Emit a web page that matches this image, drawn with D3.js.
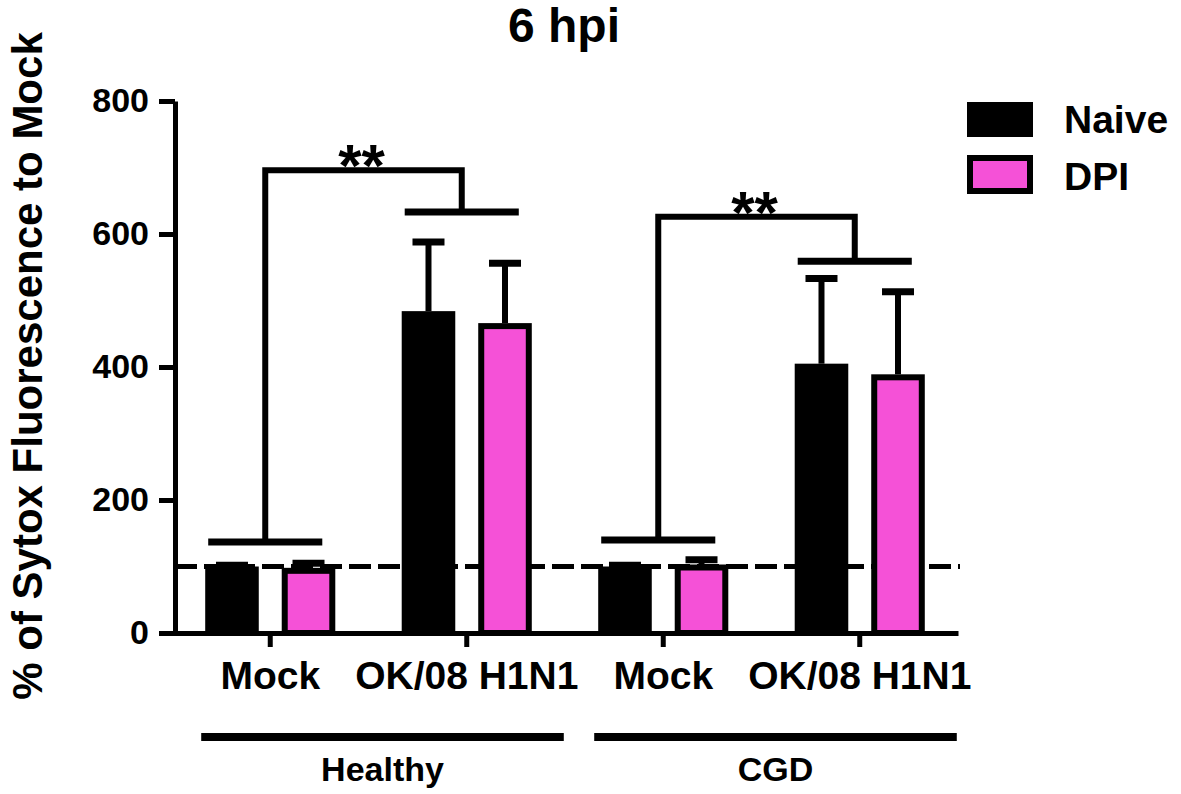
<!DOCTYPE html>
<html>
<head>
<meta charset="utf-8">
<script src="https://cdn.jsdelivr.net/npm/d3@7"></script>
<style>
  body { margin: 0; background: #fff; }
  text { font-family: Arial, "Liberation Sans", sans-serif; font-weight: bold; fill: #000; }
</style>
</head>
<body>
<div id="chart"></div>
<script>
// Data
var categories = ["Mock (Healthy)", "OK/08 (Healthy)", "Mock (CGD)", "OK/08 (CGD)"];
var tickLabels = ["Mock", "OK/08 H1N1", "Mock", "OK/08 H1N1"];
var seriesNames = ["Naive", "DPI"];
var naive = [100, 484, 100, 405];
var naiveErr = [2, 104, 2, 128];
var dpi = [98, 466, 103, 389];
var dpiErr = [7, 90, 7, 124];
var yTicks = [0, 200, 400, 600, 800];
var groupNames = ["Healthy", "CGD"];
// significance brackets: mock index, infected index, mock level, infected level, top level
var bracketFrom = [0, 2];
var bracketTo = [1, 3];
var bracketLow = [137, 140];
var bracketHigh = [633, 559];
var bracketTop = [696, 626];
var refLine = 100;

var w = 1181;
var h = 794;
var pink = "#f551d7";

var svg = d3.select("#chart")
  .append("svg")
  .attr("width", w)
  .attr("height", h);

svg.append("rect").attr("width", w).attr("height", h).attr("fill", "#fff");

// Scales
var yScale = d3.scaleLinear()
  .domain([0, 800])
  .range([633, 101]);

var x0 = d3.scaleBand()
  .domain(categories)
  .range([172, 958])
  .paddingInner(0.338)
  .paddingOuter(0.169);

var x1 = d3.scaleBand()
  .domain(seriesNames)
  .range([0, x0.bandwidth()])
  .paddingInner(0.3);

var rows = categories.map(function(c, i) {
  return [
    {cat: c, key: "Naive", value: naive[i], err: naiveErr[i]},
    {cat: c, key: "DPI", value: dpi[i], err: dpiErr[i]}
  ];
});

// Dashed reference line at 100 % (behind bars)
svg.append("line")
  .attr("x1", 175)
  .attr("x2", 960)
  .attr("y1", yScale(refLine))
  .attr("y2", yScale(refLine))
  .attr("stroke", "#000")
  .attr("stroke-width", 5)
  .attr("stroke-dasharray", "22,7");

// Bars
var groups = svg.selectAll(".grp")
  .data(rows)
  .enter().append("g")
  .attr("class", "grp")
  .attr("transform", function(d, i) { return "translate(" + x0(categories[i]) + ",0)"; });

var bw = x1.bandwidth();

// error whiskers (upper only), drawn first so bars sit over them
groups.selectAll(".err")
  .data(function(d) { return d; })
  .enter().append("line")
  .attr("x1", function(d) { return x1(d.key) + bw / 2; })
  .attr("x2", function(d) { return x1(d.key) + bw / 2; })
  .attr("y1", function(d) { return yScale(d.value); })
  .attr("y2", function(d) { return yScale(d.value + d.err); })
  .attr("stroke", "#000")
  .attr("stroke-width", 6);

groups.selectAll(".cap")
  .data(function(d) { return d; })
  .enter().append("line")
  .attr("x1", function(d) { return x1(d.key) + bw / 2 - 16; })
  .attr("x2", function(d) { return x1(d.key) + bw / 2 + 16; })
  .attr("y1", function(d) { return yScale(d.value + d.err); })
  .attr("y2", function(d) { return yScale(d.value + d.err); })
  .attr("stroke", "#000")
  .attr("stroke-width", 7);

groups.selectAll(".bar")
  .data(function(d) { return d; })
  .enter().append("rect")
  .attr("x", function(d) { return x1(d.key) + 3; })
  .attr("width", bw - 6)
  .attr("y", function(d) { return yScale(d.value) + 3; })
  .attr("height", function(d) { return yScale(0) - yScale(d.value) - 3; })
  .attr("fill", function(d) { return d.key == "Naive" ? "#000" : pink; })
  .attr("stroke", "#000")
  .attr("stroke-width", 6);

// Y axis
var yAxis = d3.axisLeft(yScale)
  .tickValues(yTicks)
  .tickSize(16)
  .tickSizeOuter(0)
  .tickPadding(10);

var gy = svg.append("g")
  .attr("transform", "translate(175,0)")
  .call(yAxis);
gy.select(".domain").attr("stroke-width", 5);
gy.selectAll(".tick line").attr("stroke-width", 5);
gy.selectAll(".tick text")
  .style("font-size", "34px")
  .style("font-weight", "bold")
  .attr("font-family", null);

// X axis
var xAxis = d3.axisBottom(x0)
  .tickSize(14)
  .tickSizeOuter(0)
  .tickPadding(14)
  .tickFormat(function(d, i) { return tickLabels[i]; });

var gx = svg.append("g")
  .attr("transform", "translate(0," + yScale(0) + ")")
  .call(xAxis);
gx.select(".domain").attr("stroke-width", 5);
gx.selectAll(".tick line").attr("stroke-width", 5);
gx.selectAll(".tick text")
  .style("font-size", "39px")
  .style("font-weight", "bold")
  .attr("font-family", null);

// Y axis title
svg.append("text")
  .attr("transform", "rotate(-90)")
  .attr("x", -366)
  .attr("y", 42)
  .style("text-anchor", "middle")
  .style("font-size", "42px")
  .text("% of Sytox Fluorescence to Mock");

// Title
svg.append("text")
  .attr("x", 564)
  .attr("y", 42)
  .style("text-anchor", "middle")
  .style("font-size", "48px")
  .text("6 hpi");

// Group underlines and labels (Healthy / CGD)
groupNames.forEach(function(g, i) {
  var left = x0(categories[i * 2]) - 4;
  var right = x0(categories[i * 2 + 1]) + x0.bandwidth() + 32;
  svg.append("line")
    .attr("x1", left)
    .attr("x2", right)
    .attr("y1", 737)
    .attr("y2", 737)
    .attr("stroke", "#000")
    .attr("stroke-width", 8);
  svg.append("text")
    .attr("x", (left + right) / 2)
    .attr("y", 781)
    .style("text-anchor", "middle")
    .style("font-size", "34px")
    .text(g);
});

// Significance brackets
var legX = function(idx) { return x0(categories[idx]) + (x0.bandwidth() - 10) / 2; };
bracketFrom.forEach(function(f, i) {
  var t = bracketTo[i];
  // horizontal bars over each pair
  [[f, bracketLow[i]], [t, bracketHigh[i]]].forEach(function(p) {
    svg.append("line")
      .attr("x1", x0(categories[p[0]]) + 3)
      .attr("x2", x0(categories[p[0]]) + x0.bandwidth() - 13)
      .attr("y1", yScale(p[1]))
      .attr("y2", yScale(p[1]))
      .attr("stroke", "#000")
      .attr("stroke-width", 7);
  });
  svg.append("path")
    .attr("d", "M" + legX(f) + "," + yScale(bracketLow[i]) +
      "V" + yScale(bracketTop[i]) +
      "H" + legX(t) +
      "V" + yScale(bracketHigh[i]))
    .attr("fill", "none")
    .attr("stroke", "#000")
    .attr("stroke-width", 6);
  svg.append("text")
    .attr("x", (legX(f) + legX(t)) / 2 - 2)
    .attr("y", yScale(bracketTop[i]) + 16)
    .style("text-anchor", "middle")
    .style("font-size", "60px")
    .text("**");
});

// Legend
var legend = svg.selectAll(".legend")
  .data(seriesNames)
  .enter().append("g")
  .attr("class", "legend")
  .attr("transform", function(d, i) { return "translate(967," + (102 + i * 56) + ")"; });

legend.append("rect")
  .attr("x", 3)
  .attr("y", function(d, i) { return i == 0 ? 3 : 0; })
  .attr("width", 60)
  .attr("height", function(d, i) { return i == 0 ? 29 : 33; })
  .attr("fill", function(d, i) { return i == 0 ? "#000" : pink; })
  .attr("stroke", "#000")
  .attr("stroke-width", 6);

legend.append("text")
  .attr("x", 97)
  .attr("y", function(d, i) { return i == 0 ? 31 : 32; })
  .style("font-size", "39px")
  .text(function(d) { return d; });
</script>
</body>
</html>
